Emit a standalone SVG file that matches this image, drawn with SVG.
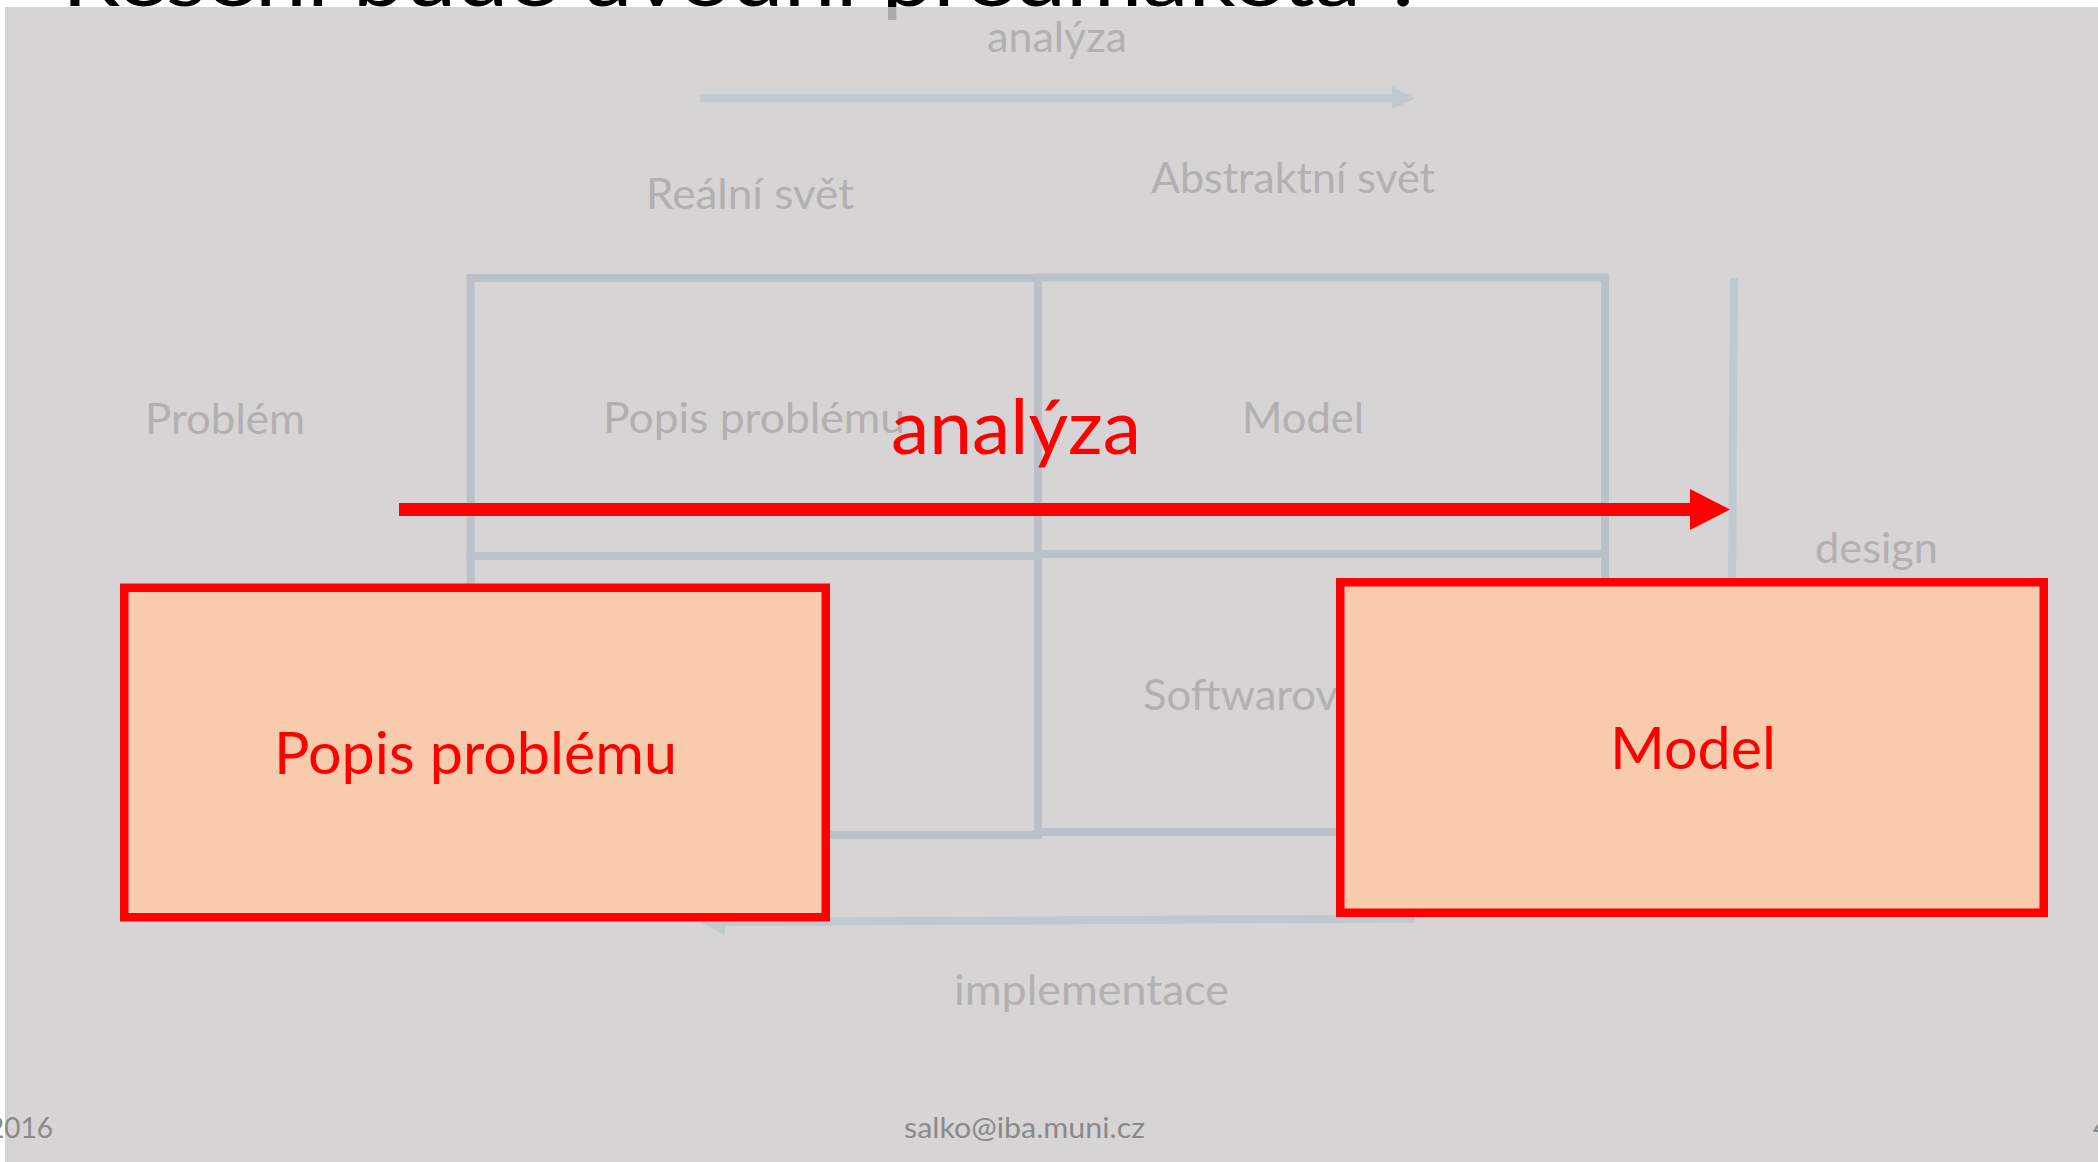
<svg xmlns="http://www.w3.org/2000/svg" width="2098" height="1162" viewBox="0 0 2098 1162">
  <style>
    text { font-family: Lato, "Open Sans", "Liberation Sans", sans-serif; }
    .faint { fill: #b2b0b1; font-size: 42px; }
    .grid { fill: none; stroke: #bcc0c8; stroke-width: 8; }
    .flow { stroke: #c0c8d0; stroke-width: 8; fill: none; }
    .flowhead { fill: #c0c8d0; }
    .box { fill: #f8cbad; stroke: #ff0000; stroke-width: 8.5; }
    .boxlabel { fill: #ff0000; font-size: 58px; }
    .foot { fill: #8a8a8a; font-size: 29px; }
  </style>

  <!-- page -->
  <rect x="0" y="0" width="2098" height="1162" fill="#ffffff"/>
  <text x="62" y="6" font-size="80" fill="#000000" textLength="1364" lengthAdjust="spacingAndGlyphs">Řešení bude úvodní předmaketa ?</text>

  <!-- dimmed backdrop over the slide -->
  <rect x="5" y="7" width="2093" height="1155" fill="rgb(206,203,204)" opacity="0.83"/>

  <!-- faded background scheme -->
  <g id="scheme">
    <g id="cells">
      <rect class="grid" x="470.5" y="278" width="567.5" height="278"/>
      <rect class="grid" x="1038" y="277.5" width="567" height="276.5"/>
      <rect class="grid" x="470.5" y="556" width="567.5" height="279"/>
      <rect class="grid" x="1038" y="554" width="567" height="278"/>
    </g>
    <g id="scheme-labels">
      <text class="faint" x="987" y="52" textLength="140" lengthAdjust="spacingAndGlyphs">analýza</text>
      <text class="faint" x="646" y="209" textLength="208" lengthAdjust="spacingAndGlyphs">Reální svět</text>
      <text class="faint" x="1151" y="193" textLength="284" lengthAdjust="spacingAndGlyphs">Abstraktní svět</text>
      <text class="faint" x="145" y="434" textLength="160" lengthAdjust="spacingAndGlyphs">Problém</text>
      <text class="faint" x="603" y="433" textLength="302" lengthAdjust="spacingAndGlyphs">Popis problému</text>
      <text class="faint" x="1242" y="433" textLength="122" lengthAdjust="spacingAndGlyphs">Model</text>
      <text class="faint" x="1815" y="563" textLength="123" lengthAdjust="spacingAndGlyphs">design</text>
      <text class="faint" x="1143" y="710" textLength="195" lengthAdjust="spacingAndGlyphs">Softwarov</text>
      <text class="faint" x="954" y="1005" textLength="275" lengthAdjust="spacingAndGlyphs">implementace</text>
    </g>
  </g>

  <!-- connectors -->
  <g id="connectors">
    <!-- faded analysis arrow (top) -->
    <line class="flow" x1="700" y1="98" x2="1394" y2="98"/>
    <polygon class="flowhead" points="1392,86.5 1415,98 1392,109.5"/>
    <!-- faded design line -->
    <line class="flow" x1="1734" y1="278" x2="1732" y2="590"/>
    <!-- faded implementation arrow (bottom, pointing left) -->
    <line class="flow" x1="1415" y1="918.5" x2="722" y2="922" stroke-width="7"/>
    <polygon class="flowhead" points="700,922 725,909 725,935"/>
    <!-- highlighted analysis arrow -->
    <line x1="399" y1="509.5" x2="1692" y2="509.5" stroke="#ff0000" stroke-width="13"/>
    <polygon points="1690,489 1730,509.5 1690,530" fill="#ff0000"/>
    <text x="891" y="454" font-size="75" fill="#ff0000" textLength="250" lengthAdjust="spacingAndGlyphs">analýza</text>
  </g>

  <g id="node-popis">
    <rect class="box" x="124.25" y="587.75" width="701.5" height="329.5"/>
    <text class="boxlabel" x="274" y="774" textLength="403" lengthAdjust="spacingAndGlyphs">Popis problému</text>
  </g>

  <g id="node-model">
    <rect class="box" x="1340.25" y="582.25" width="703.5" height="330.5"/>
    <text class="boxlabel" x="1610" y="769" textLength="166" lengthAdjust="spacingAndGlyphs">Model</text>
  </g>

  <!-- footer -->
  <g id="footer">
    <text class="foot" x="-12" y="1138" textLength="65" lengthAdjust="spacingAndGlyphs">2016</text>
    <text class="foot" x="904" y="1138" textLength="241" lengthAdjust="spacingAndGlyphs">salko@iba.muni.cz</text>
    <text class="foot" x="2093" y="1138">4</text>
  </g>
</svg>
